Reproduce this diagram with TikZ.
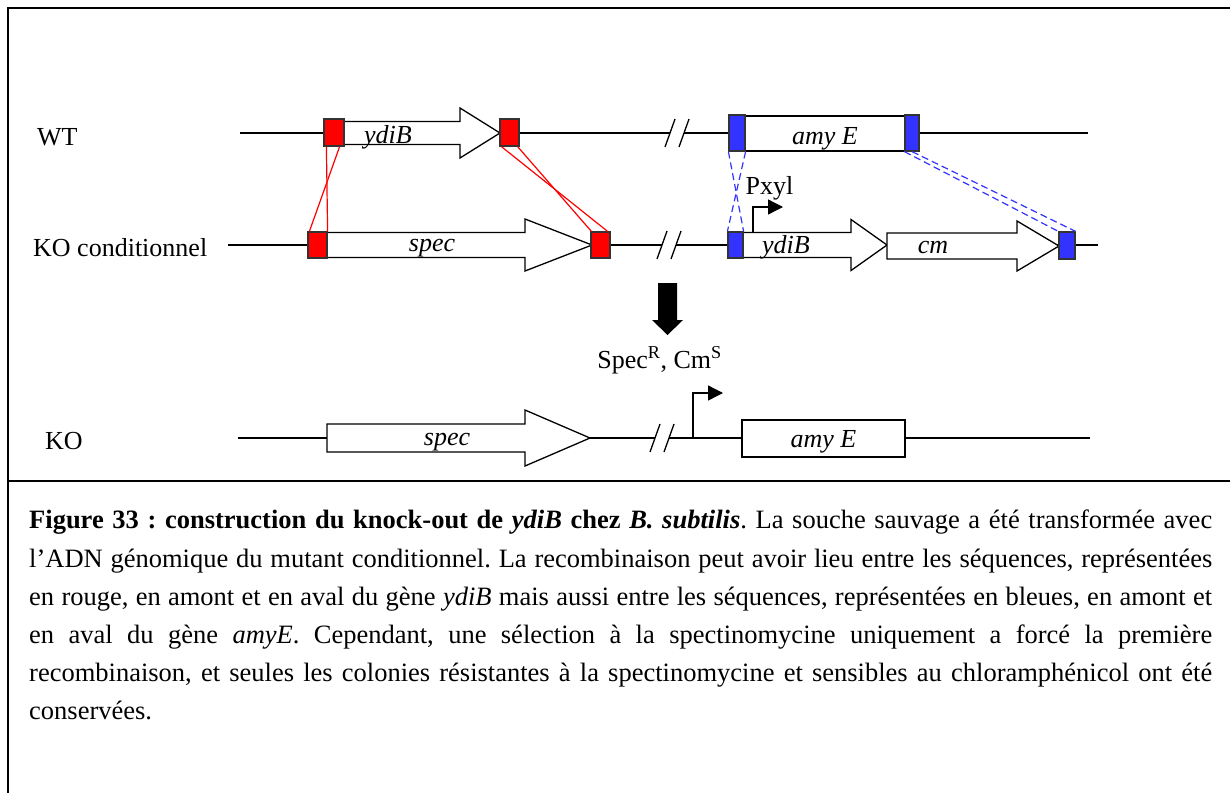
\documentclass[tikz,border=0pt]{standalone}
\usepackage{fontspec}
\setmainfont{Liberation Serif}
\usetikzlibrary{arrows.meta,positioning}
\definecolor{boxred}{RGB}{255,0,0}
\definecolor{boxblue}{RGB}{51,51,255}
\tikzset{
  redbox/.style={draw=black!80, fill=boxred, line width=1.2pt, inner sep=0pt},
  bluebox/.style={draw=black!80, fill=boxblue, line width=1.2pt, inner sep=0pt},
  genebox/.style={draw, fill=white, line width=1.3pt, inner sep=0pt, font=\fontsize{26}{30}\selectfont\itshape},
  gene/.style={draw, fill=white, line width=1.3pt},
  dna/.style={line width=1.3pt},
  lbl/.style={font=\fontsize{26}{30}\selectfont, inner sep=0pt},
  genelbl/.style={font=\fontsize{26}{30}\selectfont\itshape, inner sep=0pt, anchor=base},
  redlink/.style={red, line width=1.2pt},
  bluelink/.style={boxblue, line width=1.2pt, dash pattern=on 7pt off 4pt},
  promoter/.style={line width=1.3pt, -{Triangle[length=15pt,width=15pt]}},
  caption/.style={inner sep=0pt, text width=1183pt, align=justify, font=\fontsize{26.5}{38.2}\selectfont\frenchspacing}
}

\begin{document}
\begin{tikzpicture}[x=1pt,y=-1pt]
\useasboundingbox (0,0) rectangle (1230,793);
% frame
\draw[line width=2pt] (1230,8) -- (8,8) -- (8,793);
\draw[line width=2pt] (8,481) -- (1230,481);

% row labels
\node[lbl, anchor=base west] (wt) at (37,145) {WT};
\node[lbl, anchor=base west] (kocond) at (33,256) {KO conditionnel};
\node[lbl, anchor=base west] (ko) at (45,449) {KO};

% WT
\draw[dna] (240,133) -- (670,133);
\draw[dna] (684,133) -- (1088,133);
\draw[dna] (665,147) -- (675,119);
\draw[dna] (679,147) -- (689,119);
\draw[gene] (344,121.5) -- (460,121.5) -- (460,108) -- (500,133) -- (460,158) -- (460,144.5) -- (344,144.5) -- cycle;
\node[genelbl] (ydibwt) at (388,143) {ydiB};
\node[redbox, minimum width=20pt, minimum height=27pt] (wtL) at (334,132.5) {};
\node[redbox, minimum width=19pt, minimum height=27pt] (wtR) at (509.5,132.5) {};
\node[genebox, minimum width=160pt, minimum height=35pt] (amywt) at (825,133.5) {};
\node[genelbl] (amywtlbl) at (825,144) {amy E};
\node[bluebox, minimum width=16pt, minimum height=36pt] (wbL) at (737,133) {};
\node[bluebox, minimum width=14pt, minimum height=36pt] (wbR) at (912,133) {};

% KO conditionnel
\draw[dna] (228,245) -- (662,245);
\draw[dna] (676,245) -- (1098,245);
\draw[dna] (657,259) -- (667,231);
\draw[dna] (671,259) -- (681,231);
\draw[gene] (327,232.5) -- (525,232.5) -- (525,219) -- (592,245) -- (525,271) -- (525,257.5) -- (327,257.5) -- cycle;
\node[genelbl] (speccond) at (432,251) {spec};
\draw[gene] (743,232.5) -- (851,232.5) -- (851,219.5) -- (887,245) -- (851,270.5) -- (851,257.5) -- (743,257.5) -- cycle;
\node[genelbl] (ydibcond) at (786,253) {ydiB};
\draw[gene] (887,233) -- (1017,233) -- (1017,221) -- (1059,246) -- (1017,271) -- (1017,259) -- (887,259) -- cycle;
\node[genelbl] (cmcond) at (933,253) {cm};
\node[redbox, minimum width=19pt, minimum height=26pt] (koL) at (317.5,245) {};
\node[redbox, minimum width=19pt, minimum height=26pt] (koR) at (600.5,245) {};
\node[bluebox, minimum width=15pt, minimum height=26pt] (kbL) at (735.5,245) {};
\node[bluebox, minimum width=16pt, minimum height=27pt] (kbR) at (1067,245.5) {};
\coordinate (pxylfoot) at (753,232);
\coordinate (pxyltip) at (783,207);
\draw[promoter] (pxylfoot) |- (pxyltip);
\node[lbl, anchor=base] (pxyl) at (769.5,194) {Pxyl};

% recombinaison
\draw[redlink] ([xshift=3pt]wtL.south west) -- (koL.north east);
\draw[redlink] ([xshift=-5pt]wtL.south east) -- ([xshift=2pt]koL.north west);
\draw[redlink] ([xshift=2pt]wtR.south west) -- ([xshift=-3pt]koR.north east);
\draw[redlink] ([xshift=-2pt]wtR.south east) -- ([xshift=1pt]koR.north west);
\draw[bluelink] (wbL.south west) -- (kbL.north east);
\draw[bluelink] (wbL.south east) -- (kbL.north west);
\draw[bluelink] (wbR.south west) -- (kbR.north west);
\draw[bluelink] (wbR.south) -- (kbR.north east);

% selection
\fill (658,283) -- (677,283) -- (677,320) -- (683,320) -- (667.5,335) -- (652,320) -- (658,320) -- cycle;
\node[lbl, anchor=base] (select) at (659.5,368) {Spec\textsuperscript{R}, Cm\textsuperscript{S}};

% KO
\draw[dna] (238,438) -- (655,438);
\draw[dna] (669,438) -- (1090,438);
\draw[dna] (650,452) -- (660,424);
\draw[dna] (664,452) -- (674,424);
\draw[gene] (327,424) -- (525,424) -- (525,410) -- (590,438) -- (525,466) -- (525,452) -- (327,452) -- cycle;
\node[genelbl] (specko) at (447,445) {spec};
\node[genebox, minimum width=163pt, minimum height=37pt] (amyko) at (823.5,438.5) {};
\node[genelbl] (amykolbl) at (823.5,447) {amy E};
\coordinate (kofoot) at (693,438);
\coordinate (kotip) at (723,393);
\draw[promoter] (kofoot) |- (kotip);

% legende
\node[caption, anchor=north west] (cap) at (29,510) {\textbf{Figure 33 : construction du knock-out de \textit{ydiB} chez \textit{B. subtilis}}. La souche sauvage a été transformée avec\linebreak l’ADN génomique du mutant conditionnel. La recombinaison peut avoir lieu entre les séquences, représentées\linebreak en rouge, en amont et en aval du gène \textit{ydiB} mais aussi entre les séquences, représentées en bleues, en amont et\linebreak en aval du gène \textit{amyE}. Cependant, une sélection à la spectinomycine uniquement a forcé la première\linebreak recombinaison, et seules les colonies résistantes à la spectinomycine et sensibles au chloramphénicol ont été\linebreak conservées.};
\end{tikzpicture}
\end{document}
